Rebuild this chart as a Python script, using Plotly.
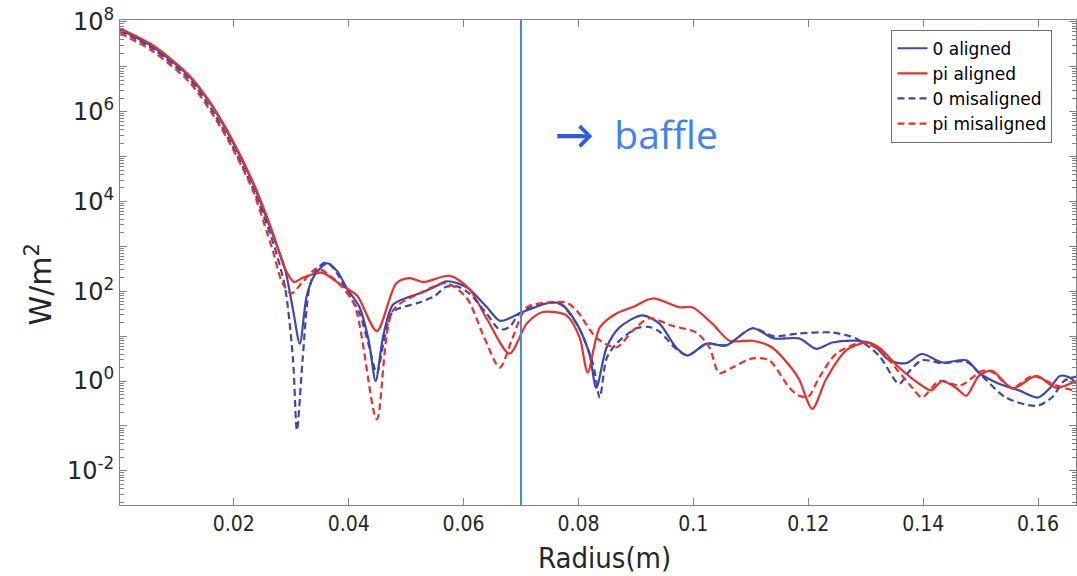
import plotly.graph_objects as go

# ---------------- data ----------------
x_0_aligned = [0.0002, 0.0059, 0.0123, 0.0158, 0.0193, 0.0233, 0.0268, 0.0289, 0.0303, 0.0315,
               0.0327, 0.0340, 0.0363, 0.0380, 0.0397, 0.0419, 0.0435, 0.0447, 0.0460, 0.0477,
               0.0500, 0.0523, 0.0550, 0.0570, 0.0590, 0.0610, 0.0640, 0.0663, 0.0680, 0.0697,
               0.0720, 0.0750, 0.0770, 0.0797, 0.0819, 0.0831, 0.0849, 0.0871, 0.0911, 0.0941,
               0.0970, 0.0990, 0.1023, 0.1057, 0.1103, 0.1140, 0.1184, 0.1214, 0.1242, 0.1283,
               0.1311, 0.1341, 0.1370, 0.1398, 0.1433, 0.1475, 0.1497, 0.1532, 0.1567, 0.1600,
               0.1621, 0.1638, 0.1655, 0.1666]
y_0_aligned = [6.6e7, 2.75e7, 6.0e6, 1.6e6, 2.8e5, 2.6e4, 1.8e3, 3.2e2, 40, 6.8,
               79, 2.2e2, 4.2e2, 2.8e2, 1.15e2, 44, 7.9, 1.0, 10, 50,
               71, 89, 126, 166, 150, 112, 45, 22, 25, 32,
               42, 56, 52, 19, 4.0, 0.71, 5.6, 15.5, 29, 19,
               5.6, 3.7, 6.8, 6.2, 15, 8.9, 8.9, 5.2, 7.2, 7.9,
               6.8, 2.9, 2.5, 4.0, 2.6, 2.9, 1.55, 0.87, 0.62, 0.43,
               0.71, 1.3, 1.2, 0.9]

x_pi_aligned = [0.0002, 0.0059, 0.0123, 0.0158, 0.0193, 0.0233, 0.0268, 0.0289, 0.0305, 0.0320,
                0.0353, 0.0380, 0.0397, 0.0415, 0.0449, 0.0483, 0.0506, 0.0530, 0.0576, 0.0610,
                0.0640, 0.0680, 0.0710, 0.0737, 0.0779, 0.0802, 0.0816, 0.0837, 0.0866, 0.0894,
                0.0929, 0.0976, 0.0998, 0.1033, 0.1063, 0.1103, 0.1137, 0.1170, 0.1184, 0.1207,
                0.1231, 0.1266, 0.1301, 0.1323, 0.1358, 0.1393, 0.1414, 0.1433, 0.1457, 0.1475,
                0.1497, 0.1520, 0.1555, 0.1597, 0.1631, 0.1666]
y_pi_aligned = [7.1e7, 3.0e7, 6.3e6, 1.66e6, 3.0e5, 2.8e4, 2.0e3, 3.2e2, 1.6e2, 2.0e2,
                2.6e2, 1.6e2, 1.15e2, 79, 13, 1.5e2, 1.95e2, 1.6e2, 2.2e2, 1.12e2,
                25, 4.1, 19, 34, 29, 9.3, 1.55, 15.5, 32, 44,
                69, 44, 44, 19, 7.9, 7.9, 5.6, 2.0, 1.1, 0.24,
                1.1, 4.8, 7.2, 5.6, 2.0, 0.87, 0.62, 1.0, 0.71, 0.47,
                1.3, 1.7, 0.68, 1.3, 0.71, 1.0]

x_0_misaligned = [0.0002, 0.0059, 0.0123, 0.0158, 0.0193, 0.0233, 0.0268, 0.0289, 0.0303, 0.0310,
                  0.0320, 0.0332, 0.0345, 0.0362, 0.0380, 0.0397, 0.0419, 0.0435, 0.0449, 0.0463,
                  0.0477, 0.0523, 0.0550, 0.0570, 0.0590, 0.0610, 0.0640, 0.0663, 0.0680, 0.0697,
                  0.0720, 0.0750, 0.0770, 0.0800, 0.0825, 0.0837, 0.0849, 0.0866, 0.0901, 0.0923,
                  0.0941, 0.0970, 0.0990, 0.1023, 0.1057, 0.1103, 0.1140, 0.1184, 0.1242, 0.1283,
                  0.1323, 0.1358, 0.1375, 0.1398, 0.1433, 0.1475, 0.1500, 0.1544, 0.1597, 0.1624,
                  0.1645, 0.1666]
y_0_misaligned = [6.3e7, 2.5e7, 5.2e6, 1.3e6, 2.2e5, 2.0e4, 1.26e3, 1.26e2, 3.2, 0.08,
                  3.2, 1.26e2, 3.2e2, 4.4e2, 2.5e2, 1.0e2, 32, 6.3, 1.5, 10,
                  35, 56, 79, 126, 126, 89, 32, 14, 16, 32,
                  45, 56, 50, 16, 2.5, 0.43, 3.2, 6.8, 15, 16,
                  12.6, 5.2, 3.7, 6.8, 6.3, 15, 10, 11.5, 12, 8.9,
                  3.7, 0.87, 1.6, 2.9, 2.5, 2.7, 1.4, 0.43, 0.28, 0.43,
                  1.0, 1.26]

x_pi_misaligned = [0.0002, 0.0059, 0.0123, 0.0158, 0.0193, 0.0233, 0.0257, 0.0268, 0.0285, 0.0300,
                   0.0320, 0.0345, 0.0380, 0.0410, 0.0449, 0.0477, 0.0523, 0.0570, 0.0605, 0.0635,
                   0.0663, 0.0685, 0.0710, 0.0750, 0.0779, 0.0797, 0.0831, 0.0866, 0.0894, 0.0923,
                   0.0963, 0.1005, 0.1028, 0.1045, 0.1068, 0.1103, 0.1132, 0.1167, 0.1184, 0.1200,
                   0.1219, 0.1249, 0.1294, 0.1323, 0.1353, 0.1381, 0.1398, 0.1428, 0.1465, 0.1503,
                   0.1520, 0.1555, 0.1590, 0.1631, 0.1660, 0.1666]
y_pi_misaligned = [5.6e7, 2.2e7, 4.5e6, 1.1e6, 2.0e5, 1.8e4, 2.2e3, 8.0e2, 1.5e2, 89,
                   1.6e2, 3.2e2, 1.6e2, 50, 0.14, 37, 89, 1.5e2, 72, 10,
                   2.0, 8.9, 44, 56, 56, 37, 9.3, 5.6, 13, 25,
                   17, 12, 5.6, 1.5, 2.0, 3.2, 2.9, 0.71, 0.47, 0.45,
                   1.2, 4.1, 7.2, 5.0, 1.9, 0.71, 0.43, 1.0, 0.8, 1.7,
                   1.6, 0.71, 1.3, 0.8, 0.63, 0.63]

series_names = ["0 aligned", "pi aligned", "0 misaligned", "pi misaligned"]
baffle_radius = 0.07
x_tick_vals = [0.02, 0.04, 0.06, 0.08, 0.1, 0.12, 0.14, 0.16]
x_tick_text = ["0.02", "0.04", "0.06", "0.08", "0.1", "0.12", "0.14", "0.16"]
y_decades = [-2, -1, 0, 1, 2, 3, 4, 5, 6, 7, 8]

# ---------------- styling ----------------
BLUE = "rgb(62,72,172)"
RED = "rgb(232,48,44)"
LW = 2.2

fig = go.Figure()
specs = [
    (x_0_aligned, y_0_aligned, series_names[0], BLUE, "solid"),
    (x_pi_aligned, y_pi_aligned, series_names[1], RED, "solid"),
    (x_0_misaligned, y_0_misaligned, series_names[2], BLUE, "7px,4px"),
    (x_pi_misaligned, y_pi_misaligned, series_names[3], RED, "7px,4px"),
]
for xs, ys, name, col, dash in specs:
    fig.add_trace(go.Scatter(
        x=xs, y=ys, name=name, mode="lines",
        line=dict(color=col, width=LW, dash=dash, shape="spline", smoothing=0.8),
    ))

# baffle line
fig.add_shape(type="line", xref="x", yref="paper",
              x0=baffle_radius, x1=baffle_radius, y0=0, y1=1,
              line=dict(color="rgb(70,140,215)", width=2))

fig.add_annotation(
    x=0.0755, y=0.767, xref="x", yref="paper", xanchor="left", yanchor="middle",
    text="<span style='color:#2a5ce6'><b>\u2192</b></span>\u00a0 baffle", showarrow=False,
    font=dict(family="Open Sans, Lato, sans-serif", size=39, color="#4282f0"),
)

y_tick_vals = [10.0 ** d for d in y_decades]
y_tick_text = [("10<sup>%d</sup>" % d) if d % 2 == 0 else "" for d in y_decades]
y_minor = [m * 10.0 ** d for d in range(-3, 8) for m in range(2, 10)]

AX = "rgb(130,130,130)"
TXT = "rgb(38,38,38)"

# axis titles as annotations (placed where the reference has them)
fig.add_annotation(
    x=0.507, y=-0.109, xref="paper", yref="paper", xanchor="center", yanchor="middle",
    text="Radius(m)", showarrow=False,
    font=dict(family="DejaVu Sans Condensed, DejaVu Sans, sans-serif", size=29, color=TXT),
)
fig.add_annotation(
    x=-0.084, y=0.454, xref="paper", yref="paper", xanchor="center", yanchor="middle",
    text="W/m<sup>2</sup>", showarrow=False, textangle=-90,
    font=dict(family="DejaVu Sans, sans-serif", size=30, color=TXT),
)

fig.update_layout(
    width=1077, height=576,
    margin=dict(l=120, r=1, t=20, b=71, autoexpand=False),
    paper_bgcolor="white", plot_bgcolor="white",
    font=dict(family="DejaVu Sans, sans-serif", color=TXT),
    showlegend=True,
    legend=dict(
        x=0.807, y=0.98, xanchor="left", yanchor="top",
        bgcolor="white", bordercolor="rgb(110,110,110)", borderwidth=1,
        font=dict(family="DejaVu Sans, sans-serif", size=17, color="black"),
        tracegroupgap=0, itemwidth=30,
    ),
    xaxis=dict(
        range=[0.0002, 0.1666], type="linear", automargin=False,
        tickmode="array", tickvals=x_tick_vals, ticktext=x_tick_text,
        ticks="inside", ticklen=7, tickcolor=AX, tickwidth=1,
        showline=True, linecolor=AX, linewidth=1, mirror="ticks",
        showgrid=False, zeroline=False,
        tickfont=dict(family="DejaVu Sans Condensed, DejaVu Sans, sans-serif", size=21, color=TXT),
    ),
    yaxis=dict(
        type="log", range=[-2.76, 8.04], automargin=False,
        tickmode="array", tickvals=y_tick_vals, ticktext=y_tick_text,
        ticks="inside", ticklen=7, tickcolor=AX, tickwidth=1,
        ticklabeloverflow="allow",
        minor=dict(tickvals=y_minor, ticks="inside", ticklen=4, tickcolor=AX),
        showline=True, linecolor=AX, linewidth=1, mirror="ticks",
        showgrid=False, zeroline=False,
        tickfont=dict(family="DejaVu Sans, sans-serif", size=24, color=TXT),
    ),
)

# remove the default 8px page margin so the figure fills the window exactly
fig.write_html("out.html", config={"displayModeBar": False},
               post_script="document.body.style.margin='0px';")
